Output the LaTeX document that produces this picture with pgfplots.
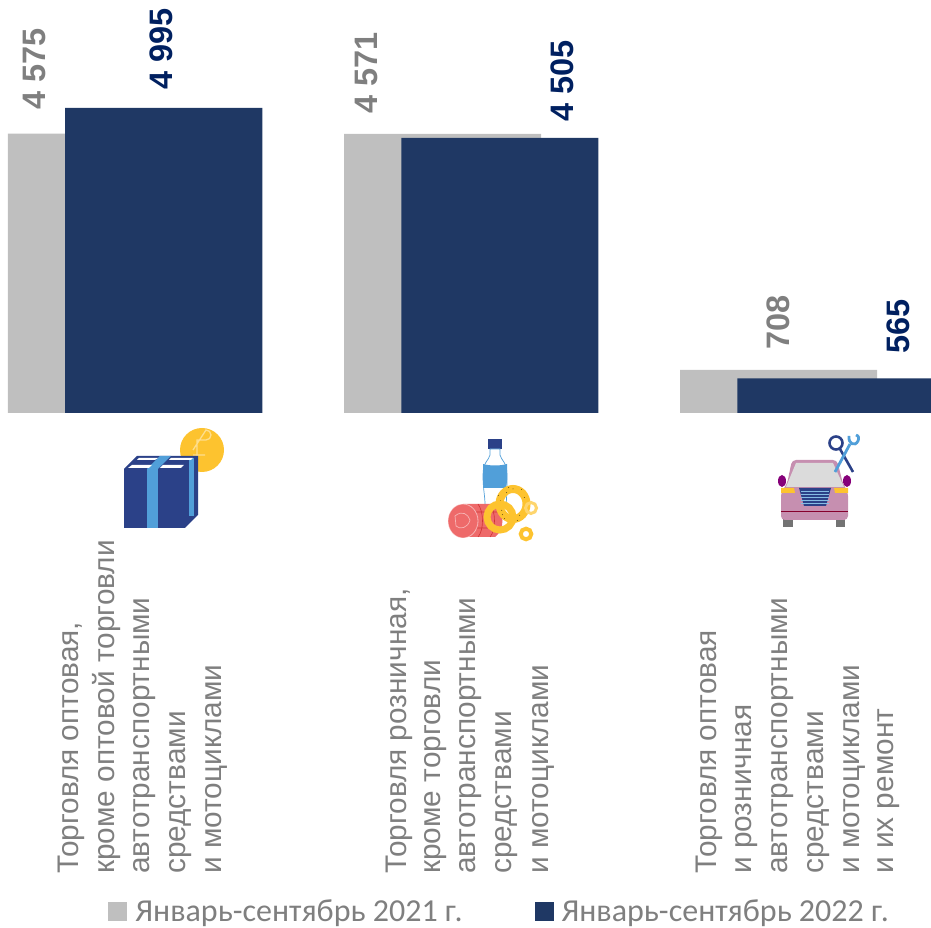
\documentclass[border=0pt]{standalone}
\usepackage{pgfplots}
\pgfplotsset{compat=1.18}
\usepackage{fontspec}
\setmainfont{Liberation Sans}
\newfontfamily\legfont{Carlito}
\definecolor{gbar}{HTML}{BFBFBF}
\definecolor{bbar}{HTML}{1F3864}
\definecolor{btxt}{HTML}{002060}
\definecolor{gtxt}{HTML}{7F7F7F}
\definecolor{navy}{HTML}{2B4188}
\definecolor{lblue}{HTML}{519FD9}
\definecolor{gold}{HTML}{FDC32F}
\definecolor{meat}{HTML}{EE6A6A}
\definecolor{carb}{HTML}{C68FB0}
\begin{document}
\begin{tikzpicture}[x=1pt,y=1pt]
\useasboundingbox (0,0) rectangle (931,928);
\begin{axis}[
  at={(0,0)},anchor=south west,
  scale only axis,width=931pt,height=928pt,
  xmin=-0.31696,xmax=2.45387,
  ymin=-8434.3,ymax=6764.0,
  hide axis,
  ybar,bar width=197pt,
  legend style={draw=none,fill=none,font=\legfont\fontsize{32}{32}\selectfont\color{gtxt},
    at={(rel axis cs:0.1165,0.0035)},anchor=south west,legend columns=2,
    /tikz/every even column/.append style={column sep=70pt},
    /tikz/every odd column/.append style={column sep=6pt},
    inner sep=0pt,outer sep=0pt},
  legend image code/.code={\fill[#1] (0pt,-9.5pt) rectangle (19pt,9.5pt);},
]
\addplot[fill=gbar,draw=none,bar shift=0pt] coordinates {(0,4575) (1,4571) (2,708)};
\addlegendentry{Январь-сентябрь 2021 г.}
\addplot[fill=bbar,draw=none,bar shift=57.25pt] coordinates {(0,4995) (1,4505) (2,565)};
\addlegendentry{Январь-сентябрь 2022 г.}
\end{axis}
\begin{scope}[shift={(0,928)},y=-1pt]
% value labels
\newcommand{\vl}[4]{\node[rotate=90,anchor=west,inner sep=0pt,text=#4,font=\bfseries\fontsize{32.5}{32.5}\selectfont] at (#1,#2) {#3};}
\vl{34.5}{110}{4 575}{gtxt}
\vl{161.5}{90}{4 995}{btxt}
\vl{366}{114}{4 571}{gtxt}
\vl{562}{122}{4 505}{btxt}
\vl{778}{350}{708}{gtxt}
\vl{898}{354}{565}{btxt}
% category labels
\newcommand{\cl}[2]{\node[rotate=90,anchor=base west,inner sep=0pt,text=gtxt,font=\fontsize{29.8}{29.8}\selectfont] at (#1,874) {#2};}
\cl{78}{Торговля оптовая,}
\cl{114}{кроме оптовой торговли}
\cl{149}{автотранспортными}
\cl{185}{средствами}
\cl{221}{и мотоциклами}
\cl{406}{Торговля розничная,}
\cl{440}{кроме торговли}
\cl{475}{автотранспортными}
\cl{511}{средствами}
\cl{548}{и мотоциклами}
\cl{716}{Торговля оптовая}
\cl{751}{и розничная}
\cl{787}{автотранспортными}
\cl{823}{средствами}
\cl{859}{и мотоциклами}
\cl{893}{и их ремонт}
% box icon
\fill[gold] (202,450) circle (22);
\draw[gold!55!white,line width=1.3] (197,462) -- (197,440) -- (206,440) arc (90:-90:5) -- (193,450) (193,455)--(205,455);
\fill[navy] (124,469) -- (137,456) -- (198,456) -- (198,515) -- (185,528) -- (124,528) -- cycle;
\fill[lblue] (147,469) rectangle (158,528);
\fill[lblue] (147,469) -- (160,456) -- (171,456) -- (158,469) -- cycle;
\fill[lblue] (189,458) rectangle (194,516);
\fill[white] (128,468) -- (132,465) -- (152,465) -- (149,468) -- cycle;
\fill[white] (160,468) -- (163,465) -- (184,465) -- (181,468) -- cycle;
\fill[white] (137,460) -- (139,458) -- (158,458) -- (155,460) -- cycle;
\fill[white] (169,460) -- (171,458) -- (193,458) -- (191,460) -- cycle;
% food icon
\fill[navy] (488,439) rectangle (502,449);
\draw[lblue,line width=0.7,fill=white] (490,449) -- (490,455) .. controls (489,460) and (483,462) .. (483,475) .. controls (483,490) and (485,495) .. (485,505) -- (506,505) .. controls (507,495) and (507,485) .. (507,475) .. controls (507,462) and (501,460) .. (500,455) -- (500,449) -- cycle;
\fill[lblue] (483,464) .. controls (490,466) and (500,466) .. (507,464) -- (507,480) .. controls (507,484) and (506,486) .. (506,488) -- (484,488) .. controls (483,486) and (483,484) .. (483,480) -- cycle;
\fill[meat] (463,504) -- (495,504) .. controls (505,510) and (505,530) .. (495,537) -- (463,537) -- cycle;
\draw[red!70!black,opacity=.5,line width=.6] (478,504) .. controls (484,512) and (484,530) .. (478,537) (490,504) .. controls (496,512) and (496,530) .. (490,537) (470,512)--(498,512) (470,528)--(498,528);
\fill[meat] (463,521) ellipse (15 and 17);
\draw[white,opacity=.5,line width=.8] (463,521) ellipse (15 and 17);
\draw[white,opacity=.5,line width=.7] (455,516) .. controls (462,510) and (468,514) .. (470,520) .. controls (468,528) and (460,530) .. (456,526) -- cycle;
\draw[gold,line width=8] (513,504) ellipse (13.5 and 15);
\foreach \a/\r in {0/15,30/17,60/13,90/15,120/17,150/13,180/15,210/17,240/13,270/15,300/17,330/13,15/13,75/17,135/15,195/13,255/17}{
  \fill[black!60!gold] (513,504) ++(\a:\r) circle (.5);}
\draw[gold,line width=7] (500,517) circle (13);
\draw[gold!70!white,line width=3] (531,508) circle (5.5);
\draw[gold,line width=4] (526,534) circle (5.3);
% car icon
\fill[black!55] (783,515) rectangle (793,527);
\fill[black!55] (836,515) rectangle (845,527);
\fill[purple!70!blue] (782,481) ellipse (4 and 6);
\fill[purple!70!blue] (847,481) ellipse (4 and 6);
\fill[carb,rounded corners=4] (792,460) -- (837,460) -- (843,484) -- (848,492) -- (848,520) -- (781,520) -- (781,492) -- (787,484) -- cycle;
\fill[black!14] (796,463) -- (833,463) -- (844,487) -- (786,487) -- cycle;
\fill[navy] (799,488) -- (831,488) -- (826,506) -- (804,506) -- cycle;
\foreach \y in {491,494,497,500,503} \draw[lblue!70!white,line width=.6] (801,\y) -- (829,\y);
\fill[gold] (781,488) -- (794,488) -- (795,493) -- (781,493) -- cycle;
\fill[gold] (834,488) -- (848,488) -- (848,493) -- (835,493) -- cycle;
\draw[purple!70!black,line width=.6] (781,511) -- (848,511);
% tools
\draw[navy,line width=2.6] (840,449) -- (853,472);
\draw[navy,line width=2.6] (836,443) circle (6.5);
\draw[lblue,line width=2.8] (835,472) -- (850,444);
\draw[lblue,line width=2.8] (849,436) .. controls (848,444) and (855,447) .. (858,441) .. controls (859,438) and (859,436) .. (856,435);
\end{scope}
\end{tikzpicture}
\end{document}
